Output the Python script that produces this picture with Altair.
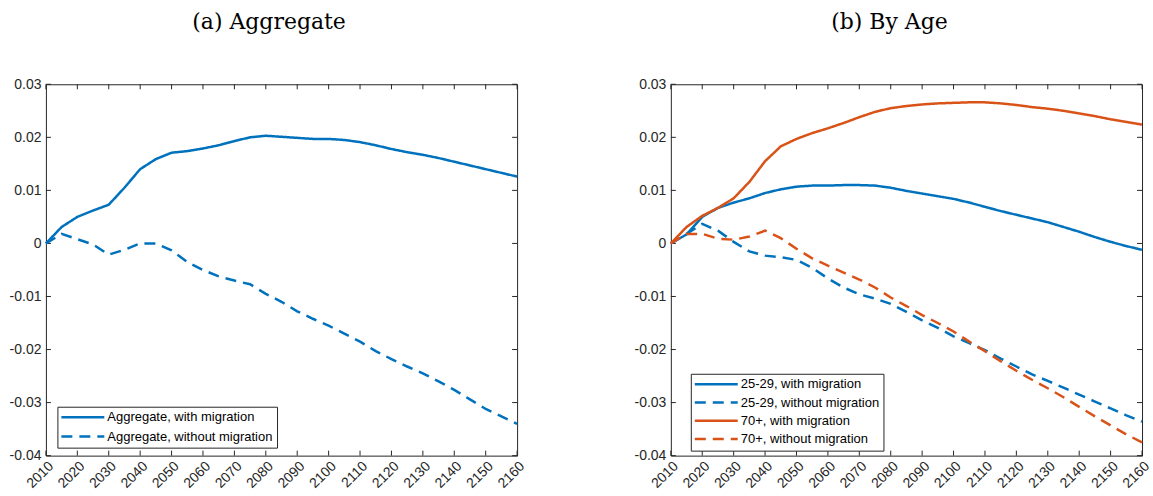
import altair as alt
import pandas as pd

# ---------------- data ----------------
years = [2010, 2015, 2020, 2025, 2030, 2035, 2040, 2045, 2050, 2055, 2060,
         2065, 2070, 2075, 2080, 2085, 2090, 2095, 2100, 2105, 2110,
         2115, 2120, 2125, 2130, 2135, 2140, 2145, 2150, 2155, 2160]

agg_with = [0, 0.0031, 0.0050, 0.0062, 0.0073, 0.0105, 0.0140, 0.0159, 0.0171, 0.0174, 0.0179,
            0.0185, 0.0193, 0.0200, 0.0203, 0.0201, 0.0199, 0.0197, 0.0197, 0.0195, 0.0191,
            0.0185, 0.0178, 0.0172, 0.0167, 0.0161, 0.0154, 0.0147, 0.0140, 0.0133, 0.0126]
agg_without = [0, 0.0018, 0.0008, -0.0002, -0.0021, -0.0012, 0.0000, 0.0000, -0.0013, -0.0035, -0.0050,
               -0.0062, -0.0070, -0.0077, -0.0095, -0.0110, -0.0128, -0.0142, -0.0155, -0.0170, -0.0185,
               -0.0203, -0.0218, -0.0232, -0.0245, -0.0260, -0.0276, -0.0294, -0.0312, -0.0326, -0.0340]

young_with = [0, 0.0017, 0.0050, 0.0067, 0.0077, 0.0085, 0.0095, 0.0102, 0.0107, 0.0109, 0.0109,
              0.0110, 0.0110, 0.0109, 0.0105, 0.0099, 0.0094, 0.0089, 0.0084, 0.0077, 0.0069,
              0.0061, 0.0054, 0.0047, 0.0040, 0.0031, 0.0022, 0.0012, 0.0003, -0.0005, -0.0012]
young_without = [0, 0.0018, 0.0037, 0.0024, 0.0003, -0.0015, -0.0023, -0.0026, -0.0031, -0.0046, -0.0066,
                 -0.0083, -0.0096, -0.0104, -0.0114, -0.0129, -0.0145, -0.0159, -0.0175, -0.0188, -0.0201,
                 -0.0217, -0.0232, -0.0247, -0.0259, -0.0272, -0.0285, -0.0298, -0.0311, -0.0324, -0.0336]
old_with = [0, 0.0031, 0.0052, 0.0067, 0.0085, 0.0116, 0.0155, 0.0183, 0.0197, 0.0208, 0.0217,
            0.0227, 0.0238, 0.0248, 0.0255, 0.0259, 0.0262, 0.0264, 0.0265, 0.0266, 0.0266,
            0.0264, 0.0261, 0.0257, 0.0254, 0.0250, 0.0245, 0.0240, 0.0234, 0.0229, 0.0224]
old_without = [0, 0.0018, 0.0018, 0.0009, 0.0007, 0.0013, 0.0024, 0.0010, -0.0010, -0.0028, -0.0042,
               -0.0055, -0.0068, -0.0083, -0.0102, -0.0118, -0.0135, -0.0150, -0.0166, -0.0185, -0.0203,
               -0.0222, -0.0240, -0.0257, -0.0273, -0.0290, -0.0308, -0.0326, -0.0343, -0.0360, -0.0375]

agg_labels = ["Aggregate, with migration", "Aggregate, without migration"]
age_labels = ["25-29, with migration", "25-29, without migration",
              "70+, with migration", "70+, without migration"]

x_ticks = [2010, 2020, 2030, 2040, 2050, 2060, 2070, 2080, 2090, 2100,
           2110, 2120, 2130, 2140, 2150, 2160]
y_ticks = [-0.04, -0.03, -0.02, -0.01, 0, 0.01, 0.02, 0.03]

# ---------------- styling ----------------
BLUE = "#0072BD"
ORANGE = "#D95319"
AXC = "#262626"
SOLID = [1, 0]
DASH = [11, 7]
W, H = 472, 372
TICK = 5


def long_table(labels, series):
    rows = []
    for lab, vals in zip(labels, series):
        for yr, v in zip(years, vals):
            rows.append({"year": yr, "value": v, "series": lab})
    return pd.DataFrame(rows)


xs = alt.Scale(domain=[2010, 2160], nice=False, zero=False)
ys = alt.Scale(domain=[-0.04, 0.03], nice=False, zero=False)
x_axis = alt.Axis(values=x_ticks, format="d", labelAngle=315, labelAlign="right",
                  labelBaseline="top", labelPadding=3, labelOverlap=False, title=None)
y_axis = alt.Axis(values=y_ticks, title=None, labelPadding=5,
                  labelExpr="datum.value == 0 ? '0' : (datum.value < 0 ? '-' : '') + format(abs(datum.value), '.2f')")


def panel(df, labels, colors, dashes, title, dx, lx, ly, rowpad):
    leg = alt.Legend(title=None, orient="none", legendX=lx, legendY=ly,
                     symbolType="M-4.3,0H4.3", symbolSize=100, symbolStrokeWidth=2.5,
                     symbolOffset=15, labelOffset=18, labelLimit=400,
                     labelFont="Liberation Sans", labelFontSize=13, labelColor="black",
                     strokeColor=AXC, fillColor="white", padding=4, rowPadding=rowpad,
                     cornerRadius=0)
    X = alt.X("year:Q", scale=xs, axis=x_axis)
    Y = alt.Y("value:Q", scale=ys, axis=y_axis)
    lines = alt.Chart(df).mark_line(strokeWidth=2.5).encode(
        x=X, y=Y,
        color=alt.Color("series:N", scale=alt.Scale(domain=labels, range=colors), legend=leg),
        strokeDash=alt.StrokeDash("series:N", scale=alt.Scale(domain=labels, range=dashes), legend=leg),
    )
    xt = pd.DataFrame({"year": x_ticks})
    yt = pd.DataFrame({"value": y_ticks})
    top = alt.Chart(xt).mark_rule(color=AXC, strokeWidth=1).encode(
        x=X, y=alt.value(0), y2=alt.value(TICK))
    bot = alt.Chart(xt).mark_rule(color=AXC, strokeWidth=1).encode(
        x=X, y=alt.value(H), y2=alt.value(H - TICK))
    lft = alt.Chart(yt).mark_rule(color=AXC, strokeWidth=1).encode(
        y=Y, x=alt.value(0), x2=alt.value(TICK))
    rgt = alt.Chart(yt).mark_rule(color=AXC, strokeWidth=1).encode(
        y=Y, x=alt.value(W), x2=alt.value(W - TICK))
    return alt.layer(top, bot, lft, rgt, lines).properties(
        width=W, height=H,
        title=alt.TitleParams(text=title, dx=dx, anchor="middle"))


left = panel(long_table(agg_labels, [agg_with, agg_without]), agg_labels,
             [BLUE, BLUE], [SOLID, DASH], "(a) Aggregate", -12.5, 11.5, 323, 5.4)
right = panel(long_table(age_labels, [young_with, young_without, old_with, old_without]), age_labels,
              [BLUE, BLUE, ORANGE, ORANGE], [SOLID, DASH, SOLID, DASH], "(b) By Age", -17, 20, 290, 4.3)

chart = alt.hconcat(left, right, spacing=105).resolve_scale(
    color="independent", strokeDash="independent"
).properties(
    padding={"left": 8, "top": 10, "right": 0, "bottom": 0}
).configure_view(stroke=AXC, strokeWidth=1).configure_axis(
    domain=False, ticks=False, grid=False, labelFont="Liberation Sans",
    labelFontSize=14, labelColor=AXC
).configure_title(font="DejaVu Serif", fontSize=22, fontWeight="normal",
                  color="black", offset=43)

chart.save("out.html", embed_options={"renderer": "svg", "actions": False})
